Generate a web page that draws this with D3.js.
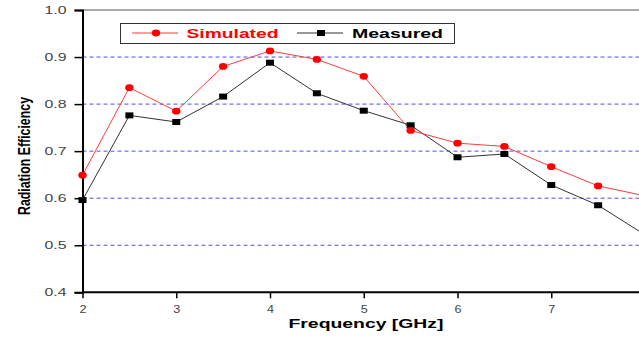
<!DOCTYPE html>
<html><head><meta charset="utf-8">
<script src="https://cdn.jsdelivr.net/npm/d3@7"></script>
<style>body{margin:0;background:#fff}svg{display:block}</style>
</head><body>
<svg id="c" width="639" height="339"></svg>
<script>
const frequency = [2, 2.5, 3, 3.5, 4, 4.5, 5, 5.5, 6, 6.5, 7, 7.5, 8];
const simulated = [0.649, 0.835, 0.785, 0.880, 0.913, 0.895, 0.859, 0.744, 0.717, 0.710, 0.667, 0.626, 0.605];
const measured  = [0.596, 0.776, 0.762, 0.816, 0.888, 0.823, 0.786, 0.755, 0.687, 0.694, 0.628, 0.585, 0.522];
const xTicks = [2, 3, 4, 5, 6, 7];
const yTicks = [0.4, 0.5, 0.6, 0.7, 0.8, 0.9, 1.0];
const seriesNames = ["Simulated", "Measured"];

const svg = d3.select("#c");
const x = d3.scaleLinear().domain([2, 8]).range([82.5, 645]);
const y = d3.scaleLinear().domain([0.4, 1.0]).range([292.3, 10]);
const font = "'Liberation Sans', Arial, sans-serif";

// grid
svg.append("g").selectAll("line").data(yTicks.filter(d => d > 0.45 && d < 0.95)).join("line")
  .attr("x1", x(2)).attr("x2", 639).attr("y1", d => y(d)).attr("y2", d => y(d))
  .attr("stroke", "#4d4dff").attr("stroke-width", 1).attr("stroke-dasharray", "4,3");

// top frame line
svg.append("line").attr("x1", x(2)).attr("x2", 639).attr("y1", y(1)).attr("y2", y(1))
  .attr("stroke", "#555").attr("stroke-width", 1);

// axes
const gx = svg.append("g").attr("transform", `translate(0,${y(0.4)})`)
  .call(d3.axisBottom(x).tickValues(xTicks).tickSize(6).tickPadding(7).tickFormat(d3.format("d")));
const gy = svg.append("g").attr("transform", `translate(${x(2)},0)`)
  .call(d3.axisLeft(y).tickValues(yTicks).tickSize(8).tickPadding(8).tickFormat(d3.format(".1f")));
[gx, gy].forEach(g => {
  g.select(".domain").attr("stroke", "#000").attr("stroke-width", 2);
  g.selectAll(".tick line").attr("stroke", "#000").attr("stroke-width", 1.5);
  g.selectAll(".tick text").attr("fill", "#444").style("font-family", font).style("font-size", "10.5px")
    .attr("lengthAdjust", "spacingAndGlyphs");
});
gx.selectAll(".tick text").attr("textLength", 7);
gy.selectAll(".tick text").attr("textLength", 22);
gx.select(".domain").attr("d", `M${x(2)},0H639`);

// lines
const line = (vals) => d3.line().x((d, i) => x(frequency[i])).y(d => y(d))(vals);
svg.append("path").attr("d", line(measured)).attr("fill", "none").attr("stroke", "#333").attr("stroke-width", 1);
svg.append("path").attr("d", line(simulated)).attr("fill", "none").attr("stroke", "#ff3b3b").attr("stroke-width", 1);

svg.append("g").selectAll("rect").data(measured).join("rect")
  .attr("x", (d, i) => x(frequency[i]) - 4).attr("y", d => y(d) - 3)
  .attr("width", 8).attr("height", 6).attr("fill", "#000");
svg.append("g").selectAll("ellipse").data(simulated).join("ellipse")
  .attr("cx", (d, i) => x(frequency[i])).attr("cy", d => y(d))
  .attr("rx", 4.2).attr("ry", 3.4).attr("fill", "#ff0000");

// legend
const lg = svg.append("g");
lg.append("rect").attr("x", 120.5).attr("y", 23.5).attr("width", 334).attr("height", 20)
  .attr("fill", "#fff").attr("stroke", "#333").attr("stroke-width", 1);
lg.append("line").attr("x1", 132).attr("x2", 178).attr("y1", 33).attr("y2", 33).attr("stroke", "#ff3b3b");
lg.append("ellipse").attr("cx", 156).attr("cy", 33).attr("rx", 4.2).attr("ry", 3.4).attr("fill", "#ff0000");
lg.append("text").attr("x", 186.5).attr("y", 37.5).text(seriesNames[0])
  .attr("textLength", 92).attr("lengthAdjust", "spacingAndGlyphs")
  .attr("fill", "#ff0000").style("font-family", font).style("font-weight", "bold").style("font-size", "12.5px");
lg.append("line").attr("x1", 297).attr("x2", 343).attr("y1", 33).attr("y2", 33).attr("stroke", "#333");
lg.append("rect").attr("x", 317).attr("y", 30).attr("width", 8).attr("height", 6).attr("fill", "#000");
lg.append("text").attr("x", 352).attr("y", 37.5).text(seriesNames[1])
  .attr("textLength", 91).attr("lengthAdjust", "spacingAndGlyphs")
  .attr("fill", "#000").style("font-family", font).style("font-weight", "bold").style("font-size", "12.5px");

// axis titles
svg.append("text").attr("x", 288.5).attr("y", 328).text("Frequency [GHz]")
  .attr("textLength", 155).attr("lengthAdjust", "spacingAndGlyphs")
  .style("font-family", font).style("font-weight", "bold").style("font-size", "12px");
svg.append("text").attr("transform", "translate(29.5,215) rotate(-90)")
  .text("Radiation Efficiency")
  .attr("textLength", 118).attr("lengthAdjust", "spacingAndGlyphs")
  .style("font-family", "'Liberation Sans Narrow', 'Liberation Sans', Arial, sans-serif")
  .style("font-weight", "bold").style("font-size", "16px");
</script>
</body></html>
